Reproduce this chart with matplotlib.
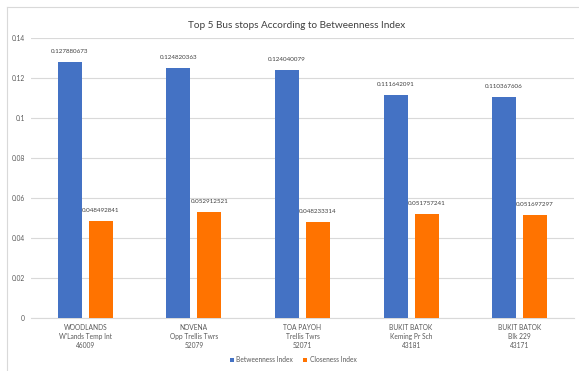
import numpy as np
import matplotlib
matplotlib.use("Agg")
import matplotlib.pyplot as plt
from matplotlib.lines import Line2D

# Data
stops = ["WOODLANDS\nW'Lands Temp Int\n46009",
         "NOVENA\nOpp Trellis Twrs\n52079",
         "TOA PAYOH\nTrellis Twrs\n52071",
         "BUKIT BATOK\nKeming Pr Sch\n43181",
         "BUKIT BATOK\nBlk 229\n43171"]
betweenness = [0.127880673, 0.124820363, 0.124040079, 0.111642091, 0.110367606]
closeness = [0.048492841, 0.052912521, 0.048233314, 0.051757241, 0.051697297]
yticks = [0, 0.02, 0.04, 0.06, 0.08, 0.1, 0.12, 0.14]
ytick_labels = ["0", "0.02", "0.04", "0.06", "0.08", "0.1", "0.12", "0.14"]

plt.rcParams['font.family'] = ['Lato', 'DejaVu Sans']

fig = plt.figure(figsize=(5.79, 3.71), dpi=100)
ax = fig.add_axes([31/579, 1 - 318/371, 543/579, 280/371])

x = np.arange(len(stops))
w = 0.22
off = 0.143
blue = "#4472C4"
orange = "#FF7300"

b1 = ax.bar(x - off, betweenness, w, color=blue, label="Betweenness Index", zorder=3)
b2 = ax.bar(x + off, closeness, w, color=orange, label="Closeness Index", zorder=3)

# value labels above each bar
for xi, v in zip(x, betweenness):
    ax.text(xi - off, v + 0.004, "%.9f" % v, ha="center", va="bottom",
            fontsize=4.5, color="#404040")
for xi, v in zip(x, closeness):
    ax.text(xi + off, v + 0.004, "%.9f" % v, ha="center", va="bottom",
            fontsize=4.5, color="#404040")

ax.set_xlim(-0.5, 4.5)
ax.set_ylim(0, 0.14)
ax.set_yticks(yticks)
ax.set_yticklabels(ytick_labels)
ax.set_xticks(x)
ax.set_xticklabels(stops, linespacing=1.3)
ax.tick_params(axis="y", length=0, pad=4.5, labelsize=4.8, labelcolor="#595959")
ax.tick_params(axis="x", length=0, pad=4.5, labelsize=4.8, labelcolor="#595959")
ax.grid(axis="y", color="#d9d9d9", linewidth=0.8, zorder=0)
for s in ["top", "right", "left"]:
    ax.spines[s].set_visible(False)
ax.spines["bottom"].set_color("#d9d9d9")
ax.spines["bottom"].set_linewidth(0.8)

fig.text(297/579, 1 - 25/371, "Top 5 Bus stops According to Betweenness Index",
         ha="center", va="center", fontsize=7.2, color="#404040")

fig.legend(handles=[b1, b2], loc="center", bbox_to_anchor=(293/579, 1 - 360/371),
           ncol=2, frameon=False, fontsize=4.8, handlelength=0.6, handleheight=0.6,
           columnspacing=1.5, handletextpad=0.4, labelcolor="#595959")

# chart border (left and top visible)
fig.add_artist(Line2D([7/579, 7/579], [0, 1 - 7/371], transform=fig.transFigure,
                      color="#d9d9d9", linewidth=0.8))
fig.add_artist(Line2D([7/579, 1], [1 - 7/371, 1 - 7/371], transform=fig.transFigure,
                      color="#d9d9d9", linewidth=0.8))

fig.savefig("out.png", dpi=100)
